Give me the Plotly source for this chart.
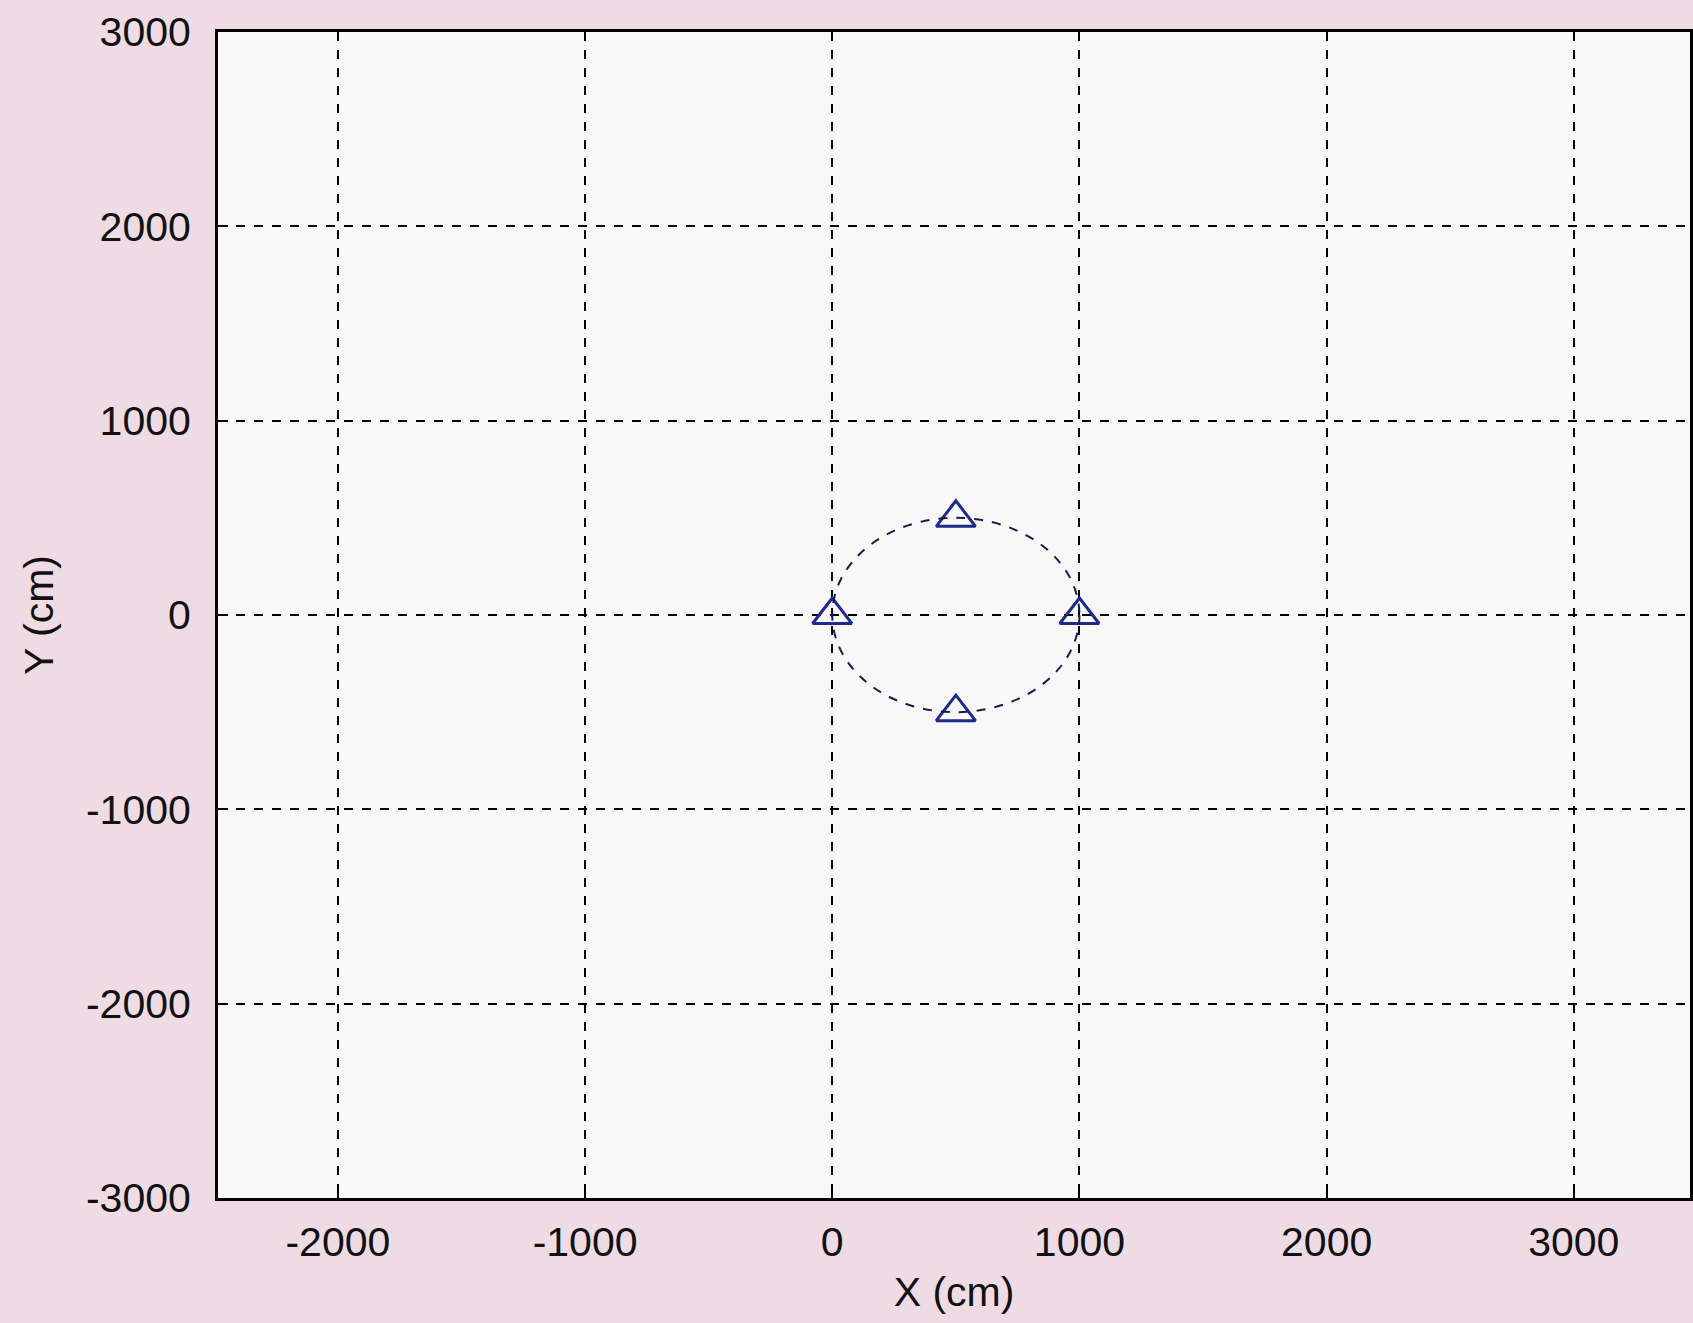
import plotly.graph_objects as go

# sensor positions (cm)
sensor_x = [0, 500, 1000, 500]
sensor_y = [0, 500, 0, -500]
# array circle
circle_cx = 500
circle_cy = 0
circle_r = 500

x_ticks = [-2000, -1000, 0, 1000, 2000, 3000]
y_ticks = [-3000, -2000, -1000, 0, 1000, 2000, 3000]
x_range = [-2485, 3470]
y_range = [-3000, 3000]

FONT = "Liberation Sans"
fig = go.Figure()

fig.add_shape(type="circle", xref="x", yref="y",
              x0=circle_cx - circle_r, x1=circle_cx + circle_r,
              y0=circle_cy - circle_r, y1=circle_cy + circle_r,
              line=dict(color="#1a1a50", width=2, dash="dash"), layer="above")

fig.add_trace(go.Scatter(x=sensor_x, y=sensor_y, mode="markers",
                         marker=dict(symbol="triangle-up-open", size=34,
                                     color="#1c2a8c", line=dict(width=3, color="#1c2a8c")),
                         showlegend=False, cliponaxis=False))

tick_font = dict(family=FONT, size=41, color="#111")
axis_common = dict(showline=True, linecolor="black", linewidth=3, mirror=True,
                   showgrid=True, gridcolor="black", gridwidth=2, griddash="dash",
                   ticks="inside", ticklen=10, tickwidth=2, tickcolor="black",
                   zeroline=False, tickfont=tick_font)

fig.update_xaxes(range=x_range, tickvals=x_ticks, ticktext=[str(v) for v in x_ticks],
                 ticklabelstandoff=6,
                 title=dict(text="X (cm)", font=tick_font, standoff=14),
                 **axis_common)
fig.update_yaxes(range=y_range, tickvals=y_ticks, ticktext=[str(v) for v in y_ticks],
                 ticklabelstandoff=16,
                 title=dict(text="Y (cm)", font=tick_font, standoff=20),
                 **axis_common)

fig.update_layout(width=1693, height=1323,
                  margin=dict(l=218, r=0, t=32, b=125),
                  paper_bgcolor="#efdbe4", plot_bgcolor="#f8f8f9",
                  showlegend=False)

fig.write_html("out.html", config={"displayModeBar": False},
               post_script="document.body.style.margin='0';document.body.style.overflow='hidden';")
